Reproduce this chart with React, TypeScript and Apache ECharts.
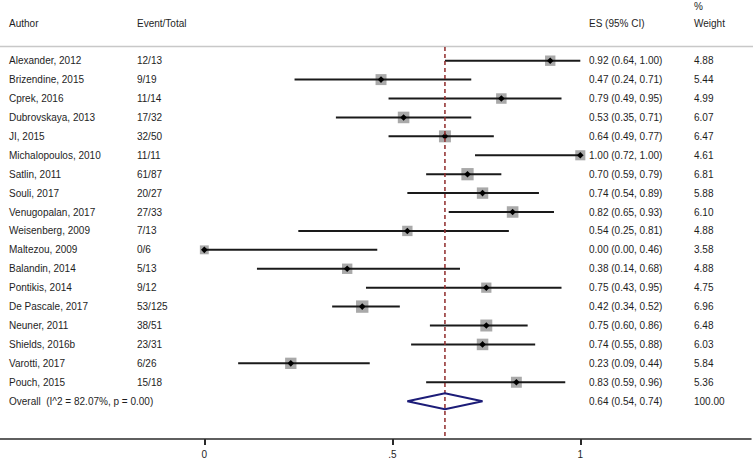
import React, { useEffect, useRef } from "react";
import * as echarts from "echarts";

const authors = [
  "Alexander, 2012", "Brizendine, 2015", "Cprek, 2016", "Dubrovskaya, 2013", "JI, 2015",
  "Michalopoulos, 2010", "Satlin, 2011", "Souli, 2017", "Venugopalan, 2017", "Weisenberg, 2009",
  "Maltezou, 2009", "Balandin, 2014", "Pontikis, 2014", "De Pascale, 2017", "Neuner, 2011",
  "Shields, 2016b", "Varotti, 2017", "Pouch, 2015",
];
const eventTotals = [
  "12/13", "9/19", "11/14", "17/32", "32/50", "11/11", "61/87", "20/27", "27/33", "7/13",
  "0/6", "5/13", "9/12", "53/125", "38/51", "23/31", "6/26", "15/18",
];
const es = [0.92, 0.47, 0.79, 0.53, 0.64, 1.0, 0.7, 0.74, 0.82, 0.54, 0.0, 0.38, 0.75, 0.42, 0.75, 0.74, 0.23, 0.83];
const ciLow = [0.64, 0.24, 0.49, 0.35, 0.49, 0.72, 0.59, 0.54, 0.65, 0.25, 0.0, 0.14, 0.43, 0.34, 0.6, 0.55, 0.09, 0.59];
const ciHigh = [1.0, 0.71, 0.95, 0.71, 0.77, 1.0, 0.79, 0.89, 0.93, 0.81, 0.46, 0.68, 0.95, 0.52, 0.86, 0.88, 0.44, 0.96];
const weights = [4.88, 5.44, 4.99, 6.07, 6.47, 4.61, 6.81, 5.88, 6.1, 4.88, 3.58, 4.88, 4.75, 6.96, 6.48, 6.03, 5.84, 5.36];

const overallLabel = "Overall  (I^2 = 82.07%, p = 0.00)";
const overallEs = 0.64;
const overallLow = 0.54;
const overallHigh = 0.74;
const overallWeight = 100.0;

const xTickValues = [0, 0.5, 1];
const xTickLabels = ["0", ".5", "1"];

const FONT = "'Liberation Sans', Arial, Helvetica, sans-serif";
const TEXT_COLOR = "#1e1e1e";

const fmtCI = (e: number, l: number, h: number) =>
  `${e.toFixed(2)} (${l.toFixed(2)}, ${h.toFixed(2)})`;

export default function App() {
  const ref = useRef<HTMLDivElement>(null);

  useEffect(() => {
    if (!ref.current) return;
    const chart = echarts.init(ref.current, null, { renderer: "svg" });

    const nRows = authors.length + 1;
    const studyData = es.map((v, i) => [v, ciLow[i], ciHigh[i], weights[i], i]);
    const textData = Array.from({ length: nRows }, (_, i) => [0, i]);

    const colX = { author: 9, events: 137, es: 589, weight: 694 };
    const textStyle = (t: string, x: number, y: number) => ({
      type: "text",
      x,
      y,
      style: {
        text: t,
        fill: TEXT_COLOR,
        font: `10px ${FONT}`,
        textVerticalAlign: "middle",
        verticalAlign: "middle",
      },
    });

    const option: any = {
      animation: false,
      backgroundColor: "#ffffff",
      grid: { left: 0, right: 2, top: 47, bottom: 20, containLabel: false },
      xAxis: {
        type: "value",
        min: -0.5434,
        max: 1.454,
        position: "bottom",
        axisLine: { show: true, onZero: false, lineStyle: { color: "#2a2a2a", width: 1.5 } },
        axisTick: {
          show: true,
          length: 6,
          customValues: xTickValues,
          lineStyle: { color: "#2a2a2a", width: 2 },
        },
        axisLabel: {
          show: true,
          customValues: xTickValues,
          margin: 10,
          color: TEXT_COLOR,
          fontFamily: FONT,
          fontSize: 10,
          formatter: (v: number) => {
            const idx = xTickValues.findIndex((t) => Math.abs(t - v) < 1e-9);
            return idx >= 0 ? xTickLabels[idx] : "";
          },
        },
        splitLine: { show: false },
      },
      yAxis: {
        type: "value",
        inverse: true,
        min: -0.724,
        max: 20.0,
        show: false,
        splitLine: { show: false },
      },
      graphic: [
        {
          type: "line",
          shape: { x1: 0, y1: 46.5, x2: 753, y2: 46.5 },
          style: { stroke: "#c8c8c8", lineWidth: 1.5 },
        },
        textStyle("Author", colX.author, 23.5),
        textStyle("Event/Total", colX.events, 23.5),
        textStyle("ES (95% CI)", colX.es, 23.5),
        textStyle("%", colX.weight, 6),
        textStyle("Weight", colX.weight, 23.5),
      ],
      series: [
        {
          type: "custom",
          silent: true,
          clip: false,
          z: 2,
          data: studyData,
          encode: { x: 0, y: 4 },
          renderItem: (params: any, api: any) => {
            const e = api.value(0);
            const lo = api.value(1);
            const hi = api.value(2);
            const w = api.value(3);
            const row = api.value(4);
            const p = api.coord([e, row]);
            const pl = api.coord([lo, row]);
            const ph = api.coord([hi, row]);
            const side = 4.7 * Math.sqrt(w);
            const d = 3.3;
            return {
              type: "group",
              children: [
                {
                  type: "rect",
                  shape: { x: p[0] - side / 2, y: p[1] - side / 2, width: side, height: side },
                  style: { fill: "#a9a9a9" },
                },
                {
                  type: "line",
                  shape: { x1: pl[0], y1: pl[1], x2: ph[0], y2: ph[1] },
                  style: { stroke: "#1a1a1a", lineWidth: 2 },
                },
                {
                  type: "polygon",
                  shape: {
                    points: [
                      [p[0] - d, p[1]],
                      [p[0], p[1] - d],
                      [p[0] + d, p[1]],
                      [p[0], p[1] + d],
                    ],
                  },
                  style: { fill: "#000000" },
                },
              ],
            };
          },
        },
        {
          type: "custom",
          silent: true,
          clip: false,
          z: 3,
          data: [[overallEs, overallLow, overallHigh, authors.length]],
          encode: { x: 0, y: 3 },
          renderItem: (params: any, api: any) => {
            const e = api.value(0);
            const lo = api.value(1);
            const hi = api.value(2);
            const row = api.value(3);
            const p = api.coord([e, row]);
            const pl = api.coord([lo, row]);
            const ph = api.coord([hi, row]);
            const cs = params.coordSys;
            const hh = 8;
            return {
              type: "group",
              children: [
                {
                  type: "line",
                  shape: { x1: p[0], y1: cs.y, x2: p[0], y2: cs.y + cs.height },
                  style: { stroke: "#8f2a2a", lineWidth: 1.5, lineDash: [4, 3] },
                },
                {
                  type: "polygon",
                  shape: {
                    points: [
                      [pl[0], p[1]],
                      [p[0], p[1] - hh],
                      [ph[0], p[1]],
                      [p[0], p[1] + hh],
                    ],
                  },
                  style: { fill: "none", stroke: "#1c1c78", lineWidth: 2 },
                },
              ],
            };
          },
        },
        {
          type: "custom",
          silent: true,
          clip: false,
          z: 4,
          data: textData,
          encode: { x: 0, y: 1 },
          renderItem: (params: any, api: any) => {
            const i = params.dataIndex;
            const y = api.coord([0, api.value(1)])[1];
            const isOverall = i === authors.length;
            const label = isOverall ? overallLabel : authors[i];
            const ev = isOverall ? "" : eventTotals[i];
            const ci = isOverall
              ? fmtCI(overallEs, overallLow, overallHigh)
              : fmtCI(es[i], ciLow[i], ciHigh[i]);
            const wt = isOverall ? overallWeight.toFixed(2) : weights[i].toFixed(2);
            return {
              type: "group",
              children: [
                textStyle(label, colX.author, y),
                textStyle(ev, colX.events, y),
                textStyle(ci, colX.es, y),
                textStyle(wt, colX.weight, y),
              ],
            };
          },
        },
      ],
    };

    chart.setOption(option);
    return () => chart.dispose();
  }, []);

  return (
    <div
      ref={ref}
      style={{ position: "fixed", left: 0, top: 0, width: 753, height: 459, background: "#fff" }}
    />
  );
}
